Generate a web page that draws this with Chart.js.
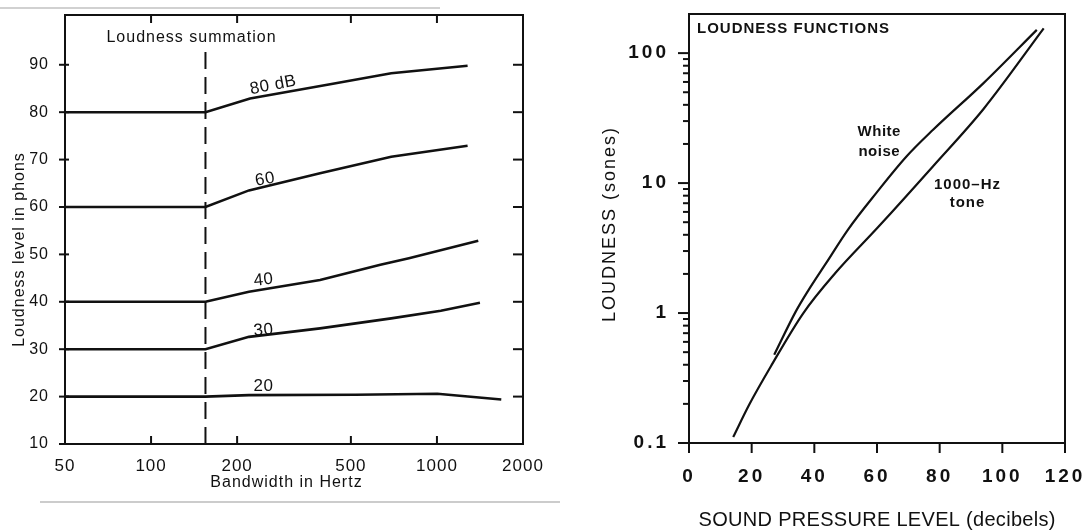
<!DOCTYPE html>
<html>
<head>
<meta charset="utf-8">
<title>Loudness summation and loudness functions</title>
<script src="https://cdn.jsdelivr.net/npm/chart.js@4/dist/chart.umd.min.js"></script>
<style>
  html, body { margin: 0; padding: 0; background: #fff; }
  body { width: 1085px; height: 532px; position: relative; overflow: hidden; }
  canvas { position: absolute; top: 0; }
  #summation { left: 0; }
  #functions { left: 580px; }
</style>
</head>
<body>
<canvas id="summation" width="560" height="532"></canvas>
<canvas id="functions" width="505" height="532"></canvas>
<script>
// ---------- Loudness summation: loudness level vs. bandwidth ----------
const bandwidthTicks = [50, 100, 200, 500, 1000, 2000];
const phonTicks = [10, 20, 30, 40, 50, 60, 70, 80, 90];
const criticalBandHz = 155;
const criticalBandSpan = [10, 93.5];

const hz80 = [50, 155, 222, 423, 692, 1280];
const phons80 = [80, 80, 82.9, 85.9, 88.2, 89.8];
const hz60 = [50, 155, 220, 390, 692, 1280];
const phons60 = [60, 60, 63.5, 67.1, 70.6, 72.9];
const hz40 = [50, 155, 220, 390, 634, 798, 1395];
const phons40 = [40, 40, 42.1, 44.6, 47.8, 49.2, 52.9];
const hz30 = [50, 155, 220, 390, 692, 1032, 1414];
const phons30 = [30, 30, 32.6, 34.4, 36.5, 38.1, 39.8];
const hz20 = [50, 155, 220, 519, 1003, 1679];
const phons20 = [20, 20, 20.3, 20.4, 20.6, 19.4];

const levelLabels = ['80 dB', '60', '40', '30', '20'];

// ---------- Loudness functions: sones vs. sound pressure level ----------
const splTicks = [0, 20, 40, 60, 80, 100, 120];
const soneTicks = [0.1, 1, 10, 100];
const soneMinorTicks = [0.2, 0.3, 0.4, 0.5, 0.6, 0.7, 0.8, 0.9,
                        2, 3, 4, 5, 6, 7, 8, 9,
                        20, 30, 40, 50, 60, 70, 80, 90];

const noiseDb = [27.2, 34.1, 37.9, 43.8, 50.7, 59.8, 69.4, 77.9, 94.0, 111.0];
const noiseSones = [0.478, 1.03, 1.47, 2.43, 4.37, 8.4, 16.0, 25.7, 58.8, 151];
const toneDb = [14.1, 19.2, 26.1, 36.5, 46.7, 60.3, 77.9, 94.0, 113.2];
const toneSones = [0.111, 0.197, 0.388, 1.0, 2.03, 4.57, 13.5, 37.2, 155];

// ---------- shared drawing helpers ----------
const INK = '#111';
const SANS = "'Liberation Sans', Arial, sans-serif";

const pairs = (xs, ys) => xs.map((x, i) => ({ x, y: ys[i] }));

function drawText(ctx, text, x, y, font, spacing = 0, angle = 0, align = 'center') {
  ctx.save();
  ctx.translate(x, y);
  ctx.rotate(angle * Math.PI / 180);
  ctx.font = font;
  ctx.letterSpacing = spacing + 'px';
  ctx.fillStyle = INK;
  ctx.textAlign = align;
  ctx.textBaseline = 'middle';
  ctx.fillText(text, align === 'center' ? spacing / 2 : 0, 0);
  ctx.restore();
}

// Frame box, tick marks placed through the scales, and free text
const framePlugin = {
  id: 'framePlugin',
  beforeDraw(chart, args, opts) {
    chart.ctx.letterSpacing = (opts.labelSpacing || 0) + 'px';
  },
  afterDraw(chart, args, opts) {
    const { ctx, chartArea: a, scales } = chart;
    ctx.save();
    ctx.letterSpacing = '0px';
    ctx.strokeStyle = INK;
    ctx.lineCap = 'butt';
    ctx.lineWidth = opts.frameWidth;
    ctx.strokeRect(a.left, a.top, a.right - a.left, a.bottom - a.top);
    ctx.lineWidth = opts.tickWidth;
    for (const m of opts.marks) {
      const s = scales[m.axis];
      for (const v of m.values) {
        const p = s.getPixelForValue(v);
        ctx.beginPath();
        if (m.side === 'left') { ctx.moveTo(a.left - m.out, p); ctx.lineTo(a.left + m.in, p); }
        if (m.side === 'right') { ctx.moveTo(a.right + m.out, p); ctx.lineTo(a.right - m.in, p); }
        if (m.side === 'bottom') { ctx.moveTo(p, a.bottom + m.out); ctx.lineTo(p, a.bottom - m.in); }
        if (m.side === 'top') { ctx.moveTo(p, a.top - m.out); ctx.lineTo(p, a.top + m.in); }
        ctx.stroke();
      }
    }
    for (const r of (opts.rules || [])) {
      ctx.strokeStyle = r.color;
      ctx.lineWidth = r.width;
      ctx.beginPath();
      ctx.moveTo(r.x1, r.y);
      ctx.lineTo(r.x2, r.y);
      ctx.stroke();
    }
    ctx.restore();
    for (const t of opts.texts) {
      let x = t.x, y = t.y;
      if (t.data) {
        x = scales.x.getPixelForValue(t.data[0]);
        y = scales.y.getPixelForValue(t.data[1]);
      }
      drawText(ctx, t.text, x, y, t.font, t.spacing || 0, t.angle || 0, t.align || 'center');
    }
  }
};

function fixedTicks(values) {
  return scale => { scale.ticks = values.map(value => ({ value })); };
}

// Fixed axis thickness; label overhang is absorbed by the layout padding
function fixedSize(prop, size) {
  return scale => {
    scale[prop] = size;
    scale.paddingLeft = scale.paddingRight = scale.paddingTop = scale.paddingBottom = 0;
  };
}

const curve = (data, width) => ({
  data, borderColor: INK, borderWidth: width, pointRadius: 0, fill: false, tension: 0
});

// ---------- chart 1 ----------
new Chart(document.getElementById('summation'), {
  type: 'line',
  data: {
    datasets: [
      curve(pairs(hz80, phons80), 2.6),
      curve(pairs(hz60, phons60), 2.6),
      curve(pairs(hz40, phons40), 2.6),
      curve(pairs(hz30, phons30), 2.6),
      curve(pairs(hz20, phons20), 2.6),
      Object.assign(curve(criticalBandSpan.map(y => ({ x: criticalBandHz, y })), 2), {
        borderDash: [17, 8]
      })
    ]
  },
  options: {
    responsive: false,
    animation: false,
    devicePixelRatio: 1,
    layout: { padding: { left: 0, top: 15, right: 37, bottom: 0 } },
    plugins: {
      legend: { display: false },
      tooltip: { enabled: false },
      framePlugin: {
        labelSpacing: 1,
        frameWidth: 2,
        tickWidth: 2,
        marks: [
          { axis: 'y', side: 'left', values: phonTicks, out: 6, in: 4 },
          { axis: 'y', side: 'right', values: phonTicks, out: 0, in: 10 },
          { axis: 'x', side: 'bottom', values: [100, 200, 500, 1000], out: 0, in: 8 },
          { axis: 'x', side: 'top', values: [100, 200, 500, 1000], out: 0, in: 8 }
        ],
        rules: [
          { x1: 0, x2: 440, y: 8, color: 'rgba(0,0,0,0.18)', width: 2 },
          { x1: 40, x2: 560, y: 502, color: 'rgba(0,0,0,0.2)', width: 2 }
        ],
        texts: [
          { text: 'Loudness summation', x: 191, y: 38, font: `16px ${SANS}`, spacing: 1 },
          { text: 'Loudness level in phons', x: 20, y: 250, font: `16px ${SANS}`, spacing: 1 },
          { text: 'Bandwidth in Hertz', x: 286, y: 483, font: `16px ${SANS}`, spacing: 1 },
          { text: levelLabels[0], data: [267, 85.7], font: `17px ${SANS}`, spacing: 0.5, angle: -11 },
          { text: levelLabels[1], data: [250, 65.8], font: `17px ${SANS}`, spacing: 0.5, angle: -10 },
          { text: levelLabels[2], data: [247, 44.6], font: `17px ${SANS}`, spacing: 0.5, angle: -6 },
          { text: levelLabels[3], data: [247, 34.0], font: `17px ${SANS}`, spacing: 0.5, angle: -5 },
          { text: levelLabels[4], data: [247, 22.1], font: `17px ${SANS}`, spacing: 0.5 }
        ]
      }
    },
    scales: {
      x: {
        type: 'logarithmic',
        min: 50,
        max: 2000,
        afterBuildTicks: fixedTicks(bandwidthTicks),
        afterFit: fixedSize('height', 88),
        grid: { display: false },
        border: { display: false },
        ticks: {
          autoSkip: false, maxRotation: 0, padding: 4, color: INK,
          font: { family: SANS, size: 17 },
          callback: v => String(v)
        }
      },
      y: {
        type: 'linear',
        min: 10,
        max: 100.5,
        afterBuildTicks: fixedTicks(phonTicks),
        afterFit: fixedSize('width', 65),
        grid: { display: false },
        border: { display: false },
        ticks: {
          padding: 8, color: INK,
          font: { family: SANS, size: 16 },
          callback: v => String(v)
        }
      }
    }
  },
  plugins: [framePlugin]
});

// the y title of chart 1 is rotated
Chart.getChart('summation').options.plugins.framePlugin.texts[1].angle = -90;
Chart.getChart('summation').update();

// ---------- chart 2 ----------
new Chart(document.getElementById('functions'), {
  type: 'line',
  data: {
    datasets: [
      Object.assign(curve(pairs(noiseDb, noiseSones), 2.2), { cubicInterpolationMode: 'monotone' }),
      Object.assign(curve(pairs(toneDb, toneSones), 2.2), { cubicInterpolationMode: 'monotone' })
    ]
  },
  options: {
    responsive: false,
    animation: false,
    devicePixelRatio: 1,
    layout: { padding: { left: 0, top: 14, right: 20, bottom: 0 } },
    plugins: {
      legend: { display: false },
      tooltip: { enabled: false },
      framePlugin: {
        labelSpacing: 3,
        frameWidth: 2,
        tickWidth: 2,
        marks: [
          { axis: 'y', side: 'left', values: soneTicks, out: 11, in: 0 },
          { axis: 'y', side: 'left', values: soneMinorTicks, out: 6, in: 0 },
          { axis: 'x', side: 'bottom', values: splTicks, out: 10, in: 0 }
        ],
        texts: [
          { text: 'LOUDNESS FUNCTIONS', x: 117, y: 29, font: `bold 15px ${SANS}`, spacing: 1, align: 'left' },
          { text: 'White', x: 299, y: 132, font: `bold 15px ${SANS}`, spacing: 0.5 },
          { text: 'noise', x: 299, y: 152, font: `bold 15px ${SANS}`, spacing: 0.5 },
          { text: '1000\u2013Hz', x: 387, y: 185, font: `bold 15px ${SANS}`, spacing: 1 },
          { text: 'tone', x: 387, y: 203, font: `bold 15px ${SANS}`, spacing: 1 },
          { text: 'LOUDNESS (sones)', x: 30, y: 225, font: `18px ${SANS}`, spacing: 2, angle: -90 },
          { text: 'SOUND PRESSURE LEVEL (decibels)', x: 297, y: 520, font: `20px ${SANS}`, spacing: 0.3 }
        ]
      }
    },
    scales: {
      x: {
        type: 'linear',
        min: 0,
        max: 120,
        afterBuildTicks: fixedTicks(splTicks),
        afterFit: fixedSize('height', 89),
        grid: { display: false },
        border: { display: false },
        ticks: {
          autoSkip: false, maxRotation: 0, padding: 14, color: INK,
          font: { family: SANS, size: 19, weight: 'bold' },
          callback: v => String(v)
        }
      },
      y: {
        type: 'logarithmic',
        min: 0.1,
        max: 200,
        afterBuildTicks: fixedTicks(soneTicks),
        afterFit: fixedSize('width', 109),
        grid: { display: false },
        border: { display: false },
        ticks: {
          padding: 12, color: INK,
          font: { family: SANS, size: 19, weight: 'bold' },
          callback: v => String(v)
        }
      }
    }
  },
  plugins: [framePlugin]
});
</script>
</body>
</html>
